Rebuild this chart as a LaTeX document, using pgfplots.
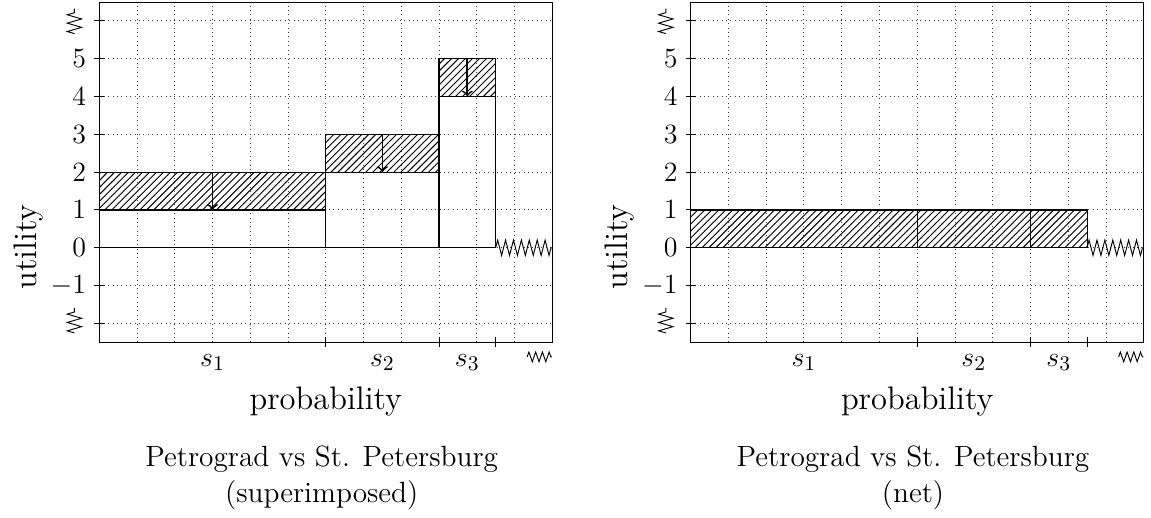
\documentclass[border=0pt]{standalone}
\usepackage{pgfplots}
\pgfplotsset{compat=1.18}
\usetikzlibrary{patterns,decorations.pathmorphing}
\newcommand{\tfont}{\fontsize{12.6}{15}\selectfont}
\newcommand{\lfont}{\fontsize{14}{16}\selectfont}
\newcommand{\kfont}{\fontsize{12.5}{14}\selectfont}
\tikzset{zz/.style={black, line width=0.4pt, decorate, decoration={zigzag, segment length=2.9pt, amplitude=2.2pt}}}
\begin{document}
\begin{tikzpicture}
\pgfplotsset{
 pstyle/.style={
  scale only axis, width=453*0.43pt, height=340.3*0.43pt,
  xmin=0,xmax=12,ymin=-2.5,ymax=6.5,
  clip=false,
  axis line style={black},
  tick style={black, line width=0.4pt},
  tick align=center, major tick length=4.3pt, minor tick length=0pt,
  tick pos=left,
  tick label style={font=\kfont},
  xtick={6,9,10.5}, xticklabels={},
  minor xtick={1,2,3,4,5,6,7,8,9,10,11}, xminorgrids,
  extra x ticks={3,7.5,9.75}, extra x tick labels={$s_1$,$s_2$,$s_3$},
  extra x tick style={major tick length=0pt, grid=none, tick label style={anchor=base, yshift=-10.2pt}},
  ytick={-2,-1,0,1,2,3,4,5,6}, yticklabels={,$-1$,$0$,$1$,$2$,$3$,$4$,$5$,},
  ymajorgrids,
  yticklabel style={xshift=0pt},
  major grid style={black!75, line width=0.4pt, dash pattern=on 0.4pt off 1.5pt},
  minor grid style={black!75, line width=0.4pt, dash pattern=on 0.4pt off 1.5pt},
  xlabel={probability}, ylabel={utility},
  xlabel style={at={(axis description cs:0.5,0)}, anchor=base, yshift=-29pt, font=\lfont},
  ylabel style={at={(axis description cs:-0.157,0.28)}, anchor=center, font=\lfont},
 },
}
% left panel
\begin{axis}[pstyle, at={(99.3*0.43pt,169.7*0.43pt)}, anchor=south west]
  \addplot[black, line width=0.5pt] coordinates {(0,0) (6,0) (6,1) (0,1)} -- cycle;
  \addplot[black, line width=0.5pt, pattern=north east lines] coordinates {(0,1) (6,1) (6,2) (0,2)} -- cycle;
  \addplot[black, line width=0.5pt] coordinates {(6,0) (9,0) (9,2) (6,2)} -- cycle;
  \addplot[black, line width=0.5pt, pattern=north east lines] coordinates {(6,2) (9,2) (9,3) (6,3)} -- cycle;
  \addplot[black, line width=0.5pt] coordinates {(9,0) (10.5,0) (10.5,4) (9,4)} -- cycle;
  \addplot[black, line width=0.5pt, pattern=north east lines] coordinates {(9,4) (10.5,4) (10.5,5) (9,5)} -- cycle;
  \addplot[black, line width=0.75pt, ->] coordinates {(3,2) (3,1)};
  \addplot[black, line width=0.75pt, ->] coordinates {(7.5,3) (7.5,2)};
  \addplot[black, line width=0.75pt, ->] coordinates {(9.75,5) (9.75,4)};
  \addplot[zz, decoration={amplitude=3.3pt, segment length=3.4pt}] coordinates {(10.5,0) (12,0)};
\end{axis}
% right panel
\begin{axis}[pstyle, at={(690.7*0.43pt,169.7*0.43pt)}, anchor=south west]
  \addplot[black, line width=0.5pt, pattern=north east lines] coordinates {(0,0) (6,0) (6,1) (0,1)} -- cycle;
  \addplot[black, line width=0.5pt, pattern=north east lines] coordinates {(6,0) (9,0) (9,1) (6,1)} -- cycle;
  \addplot[black, line width=0.5pt, pattern=north east lines] coordinates {(9,0) (10.5,0) (10.5,1) (9,1)} -- cycle;
  \addplot[zz, decoration={amplitude=3.3pt, segment length=3.4pt}] coordinates {(10.5,0) (12,0)};
\end{axis}
% zigzag tick symbols
\foreach \dx in {0pt,254.3pt}{
  \draw[zz, decoration={amplitude=3.1pt, segment length=3.6pt}] ([xshift=\dx]32pt,205.7pt) -- ([xshift=\dx]32pt,216.4pt);
  \draw[zz, decoration={amplitude=3.1pt, segment length=3.6pt}] ([xshift=\dx]32pt,77pt) -- ([xshift=\dx]32pt,87.7pt);
  \draw[zz, decoration={amplitude=2.1pt, segment length=2.9pt}] ([xshift=\dx]226.7pt,66.7pt) -- ([xshift=\dx]237.3pt,66.7pt);
}
% titles
\node[anchor=base, font=\tfont] at (321.7*0.43pt, 45*0.43pt) {Petrograd vs St. Petersburg};
\node[anchor=base, font=\tfont] at (321.7*0.43pt, 10*0.43pt) {(superimposed)};
\node[anchor=base, font=\tfont] at (913*0.43pt, 45*0.43pt) {Petrograd vs St. Petersburg};
\node[anchor=base, font=\tfont] at (913*0.43pt, 10*0.43pt) {(net)};
\path (0,0) rectangle (1151*0.43pt, 512*0.43pt);
\end{tikzpicture}
\end{document}
